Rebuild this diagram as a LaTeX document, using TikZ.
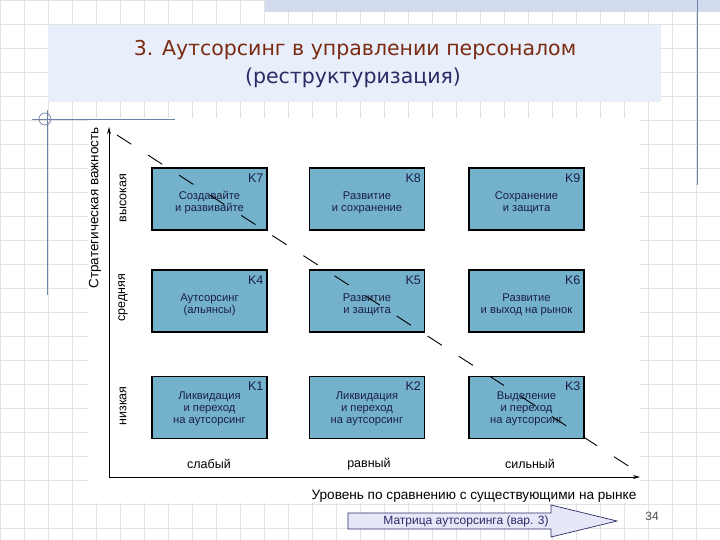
\documentclass[tikz,border=0pt]{standalone}
\usepackage{fontspec}
\setmainfont{Liberation Sans}
\newfontfamily\titlefont{DejaVu Sans}
\usetikzlibrary{arrows.meta}
\definecolor{boxfill}{HTML}{74B2CC}
\definecolor{boxtext}{HTML}{1A1E44}
\definecolor{gridc}{HTML}{E2E2E2}
\definecolor{titlebg}{HTML}{E8EEFA}
\definecolor{titlered}{HTML}{7B2B12}
\definecolor{titlenavy}{HTML}{2B2B66}
\definecolor{orn}{HTML}{7080A8}
\definecolor{strip}{HTML}{D3DBEF}
\definecolor{arrowfill}{HTML}{E6E8FA}
\begin{document}
\begin{tikzpicture}[x=1pt,y=-1pt,
  cell/.style={draw=black,line width=1.1pt,fill=boxfill,minimum width=115pt,minimum height=62pt,inner sep=0pt},
  klabel/.style={anchor=north east,inner sep=0pt,font=\fontsize{12.5}{13}\selectfont,text=boxtext},
  celltext/.style={align=center,inner sep=0pt,font=\fontsize{11.2}{12}\selectfont,text=boxtext},
  axislabel/.style={inner sep=0pt,font=\fontsize{12.5}{14}\selectfont,text=black},
  gridline/.style={draw=gridc,line width=0.8pt}]
\useasboundingbox (0,0) rectangle (720,540);
\fill[white] (0,0) rectangle (720,540);
% grid
\foreach \x in {0,24,...,720} \draw[gridline] (\x,0) -- (\x,540);
\foreach \y in {0,24,...,540} \draw[gridline] (0,\y) -- (720,\y);
% top strip
\fill[strip] (265,0) rectangle (720,12);
% title box
\fill[titlebg] (48,25) rectangle (661,102);
\node[inner sep=0pt,font=\titlefont\fontsize{20.5}{22}\selectfont,text=titlered] (t1) at (355,50) {3. Аутсорсинг в управлении персоналом};
\node[inner sep=0pt,font=\titlefont\fontsize{20.5}{22}\selectfont,text=titlenavy] (t2) at (353,78) {(реструктуризация)};
% chart white area
\fill[white] (88,118) rectangle (640,503);
% ornaments
\draw[orn,line width=0.9pt] (697,0) -- (697,185);
\draw[orn,line width=0.9pt] (32,119) -- (175,119);
\draw[orn,line width=0.9pt] (47,110) -- (47,295);
\draw[orn,line width=0.7pt] (45,119) circle (6);
% axes
\coordinate (o) at (109,477);
\coordinate (ytop) at (109,127);
\coordinate (xend) at (640,477);
\draw[line width=1pt,-{Stealth[length=7pt,width=4pt]}] (o) -- (ytop);
\draw[line width=1pt,-{Stealth[length=7pt,width=4pt]}] (o) -- (xend);
\node[axislabel,rotate=90,font=\fontsize{13.5}{14}\selectfont] (yl) at (95,208) {Стратегическая важность};
\node[axislabel,rotate=90] (hi) at (123,198) {высокая};
\node[axislabel,rotate=90] (mid) at (123,298) {средняя};
\node[axislabel,rotate=90] (lo) at (123,406) {низкая};
\node[axislabel] (weak) at (209,464) {слабый};
\node[axislabel] (eq) at (369,464) {равный};
\node[axislabel] (str) at (530,464) {сильный};
\node[axislabel,font=\fontsize{13.6}{14}\selectfont] (xl) at (474,496) {Уровень по сравнению с существующими на рынке};
% cells
\node[cell] (k7) at (209.5,199) {};
\node[cell] (k8) at (367,199) {};
\node[cell] (k9) at (526.5,199) {};
\node[cell] (k4) at (209.5,301) {};
\node[cell] (k5) at (367,301) {};
\node[cell] (k6) at (526.5,301) {};
\node[cell] (k1) at (209.5,407.5) {};
\node[cell] (k2) at (367,407.5) {};
\node[cell] (k3) at (526.5,407.5) {};
\foreach \n/\l in {k7/K7,k8/K8,k9/K9,k4/K4,k5/K5,k6/K6,k1/K1,k2/K2,k3/K3}
  \node[klabel] at ([xshift=-4pt,yshift=-6pt]\n.north east) {\l};
\node[celltext] (c7) at ([yshift=-4pt]k7.center) {Создавайте\\и развивайте};
\node[celltext] (c8) at ([yshift=-4pt]k8.center) {Развитие\\и сохранение};
\node[celltext] (c9) at ([yshift=-4pt]k9.center) {Сохранение\\и защита};
\node[celltext] (c4) at ([yshift=-4pt]k4.center) {Аутсорсинг\\(альянсы)};
\node[celltext] (c5) at ([yshift=-4pt]k5.center) {Развитие\\и защита};
\node[celltext] (c6) at ([yshift=-4pt]k6.center) {Развитие\\и выход на рынок};
\node[celltext] (c1) at ([yshift=-1pt]k1.center) {Ликвидация\\и переход\\на аутсорсинг};
\node[celltext] (c2) at ([yshift=-1pt]k2.center) {Ликвидация\\и переход\\на аутсорсинг};
\node[celltext] (c3) at ([yshift=-1pt]k3.center) {Выделение\\и переход\\на аутсорсинг};
% diagonal dashed line
\coordinate (d1) at (117,135);
\coordinate (d2) at (633,469);
\draw[line width=0.9pt,dash pattern=on 17pt off 20pt] (d1) -- (d2);
% bottom block arrow
\draw[draw=titlenavy,line width=0.7pt,fill=arrowfill] (348,513) -- (551,513) -- (551,505) -- (617,521) -- (551,537) -- (551,529) -- (348,529) -- cycle;
\node[inner sep=0pt,font=\fontsize{12}{13}\selectfont,text=titlenavy] (mat) at (466,521) {Матрица аутсорсинга (вар. 3)};
\node[inner sep=0pt,font=\fontsize{12}{13}\selectfont,text=black!70] (pg) at (652,516) {34};
\end{tikzpicture}
\end{document}
